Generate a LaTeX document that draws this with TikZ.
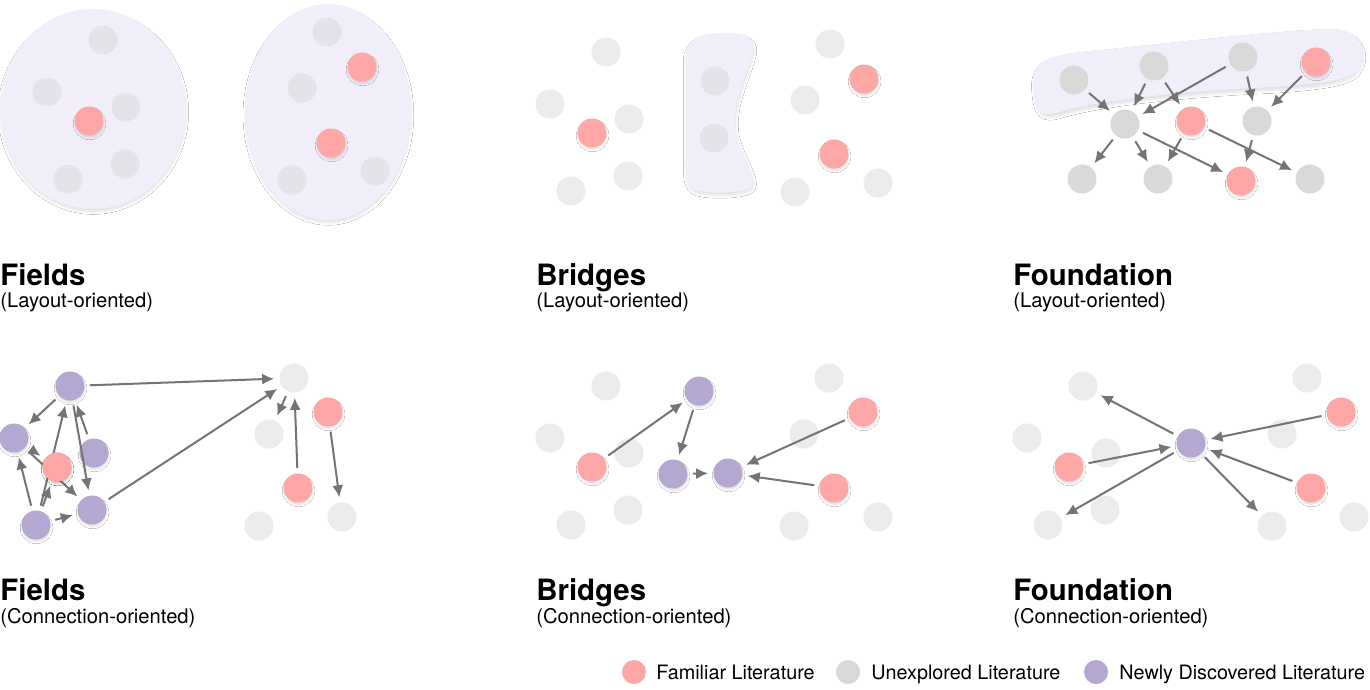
\documentclass[tikz,border=0pt]{standalone}
\usepackage{fontspec}
\setmainfont{TeX Gyre Heros}
\usetikzlibrary{arrows.meta,shadows.blur}
\definecolor{pinkc}{HTML}{FFA6A6}
\definecolor{grayc}{HTML}{EBEBEB}
\definecolor{grayin}{HTML}{E5E3EA}
\definecolor{grayf}{HTML}{D9D9D9}
\definecolor{purc}{HTML}{B4A7D2}
\definecolor{lav}{HTML}{F1EEFA}
\definecolor{arrc}{HTML}{747474}
\tikzset{
 lit/.style={circle,minimum size=14.5pt,inner sep=0pt,draw=none},
 sh/.style={blur shadow={shadow xshift=0.3pt,shadow yshift=-1.3pt,shadow scale=0.94,shadow blur radius=1.4pt,shadow blur steps=8,shadow opacity=16}},
 fam/.style={lit,fill=pinkc,sh},
 unx/.style={lit,fill=grayc},
 unxin/.style={lit,fill=grayin},
 unxf/.style={lit,fill=grayf},
 newd/.style={lit,fill=purc,sh},
 arr/.style={draw=arrc,line width=1pt,-{Latex[length=6pt,width=5.6pt]},shorten <=2.5pt,shorten >=2.5pt},
 ttl/.style={anchor=base west,inner sep=0pt,font=\fontsize{14.7}{16}\selectfont\bfseries},
 subt/.style={anchor=base west,inner sep=0pt,font=\fontsize{10.1}{12}\selectfont},
 blob/.style={fill=lav,blur shadow={shadow xshift=0.2pt,shadow yshift=-1.6pt,shadow scale=0.99,shadow blur radius=1.6pt,shadow blur steps=8,shadow opacity=14}},
 legc/.style={circle,minimum size=12pt,inner sep=0pt,draw=none},
 legt/.style={anchor=base west,inner sep=0pt,font=\fontsize{9.9}{12}\selectfont},
}
\begin{document}
\begin{tikzpicture}[x=0.5pt,y=-0.5pt]
\useasboundingbox[fill=white] (0,0) rectangle (1370,690);

% ---------- Top left: Fields (layout) ----------
\path[blob] (93,109) ellipse [x radius=93, y radius=100];
\path[blob] (328,112) ellipse [x radius=83, y radius=108];
\node[unxin] (fa1) at (103,40) {};
\node[unxin] (fa2) at (47,92) {};
\node[fam]   (fa3) at (89,121) {};
\node[unxin] (fa4) at (126,107) {};
\node[unxin] (fa5) at (125,164) {};
\node[unxin] (fa6) at (68,179) {};
\node[unxin] (fb1) at (327,32) {};
\node[fam]   (fb2) at (362,67) {};
\node[unxin] (fb3) at (302,88) {};
\node[fam]   (fb4) at (331,143) {};
\node[unxin] (fb5) at (292,180) {};
\node[unxin] (fb6) at (375,171) {};

% ---------- Top middle: Bridges (layout) ----------
\path[blob] (686,62) .. controls (684,38) and (700,33) .. (725,33)
  .. controls (745,33) and (758,36) .. (752,55)
  .. controls (745,80) and (733,100) .. (735,128)
  .. controls (737,150) and (758,175) .. (752,186)
  .. controls (748,194) and (700,195) .. (692,188)
  .. controls (684,182) and (686,165) .. (686,150) -- cycle;
\node[unx] (ba1) at (606,52) {};
\node[unx] (ba2) at (550,104) {};
\node[unx] (ba3) at (629,119) {};
\node[fam] (ba4) at (592,133) {};
\node[unx] (ba5) at (628,176) {};
\node[unx] (ba6) at (571,191) {};
\node[unxin] (bm1) at (715,81) {};
\node[unxin] (bm2) at (714,138) {};
\node[unx] (bb1) at (830,44) {};
\node[fam] (bb2) at (864,79) {};
\node[unx] (bb3) at (805,100) {};
\node[fam] (bb4) at (834,154) {};
\node[unx] (bb5) at (795,192) {};
\node[unx] (bb6) at (878,183) {};

% ---------- Top right: Foundation (layout) ----------
\path[blob] (1033,90) .. controls (1030,60) and (1045,55) .. (1100,50)
  .. controls (1180,42) and (1280,30) .. (1330,29)
  .. controls (1360,28) and (1372,52) .. (1358,70)
  .. controls (1350,80) and (1320,85) .. (1253,88)
  .. controls (1180,92) and (1100,100) .. (1060,112)
  .. controls (1040,118) and (1035,112) .. (1033,90) -- cycle;
\node[unxf] (fA) at (1074,80) {};
\node[unxf] (fB) at (1154,66) {};
\node[unxf] (fC) at (1243,57) {};
\node[fam]  (fD) at (1316,62) {};
\node[unxf] (fE) at (1125,124) {};
\node[fam]  (fF) at (1191,121) {};
\node[unxf] (fG) at (1257,121) {};
\node[unxf] (fH) at (1082,179) {};
\node[unxf] (fI) at (1158,179) {};
\node[fam]  (fJ) at (1241,181) {};
\node[unxf] (fK) at (1310,179) {};
\draw[arr] (fA) -- (fE);
\draw[arr] (fB) -- (fE);
\draw[arr] (fB) -- (fF);
\draw[arr] (fC) -- (fE);
\draw[arr] (fC) -- (fG);
\draw[arr] (fD) -- (fG);
\draw[arr] (fE) -- (fH);
\draw[arr] (fE) -- (fI);
\draw[arr] (fE) -- (fJ);
\draw[arr] (fF) -- (fI);
\draw[arr] (fF) -- (fK);
\draw[arr] (fG) -- (fJ);

% ---------- Titles top ----------
\node[ttl]  (t1) at (0,285) {Fields};
\node[subt] (s1) at (0,307) {(Layout-oriented)};
\node[ttl]  (t2) at (536,285) {Bridges};
\node[subt] (s2) at (536,307) {(Layout-oriented)};
\node[ttl]  (t3) at (1013,285) {Foundation};
\node[subt] (s3) at (1013,307) {(Layout-oriented)};

% ---------- Bottom left: Fields (connection) ----------
\node[unx] (cu1) at (294,378) {};
\node[unx] (cu2) at (269,434) {};
\node[unx] (cu3) at (342,517) {};
\node[unx] (cu4) at (259,526) {};
\node[newd] (cp1) at (70,386) {};
\node[newd] (cp2) at (14,438) {};
\node[newd] (cp3) at (94,453) {};
\node[newd] (cp4) at (92,510) {};
\node[newd] (cp5) at (36,525) {};
\node[fam]  (cr1) at (57,467) {};
\node[fam]  (cr2) at (328,412) {};
\node[fam]  (cr3) at (298,488) {};
\draw[arr] (cp1) -- (cu1);
\draw[arr] (cp4) -- (cu1);
\draw[arr] (cp1) -- (cp2);
\draw[arr] (cp1) -- (cp4);
\draw[arr] (cp3) -- (cp1);
\draw[arr] (cp5) -- (cp1);
\draw[arr] (cp5) -- (cp2);
\draw[arr] (cp5) -- (cr1);
\draw[arr] (cp5) -- (cp4);
\draw[arr] (cp2) -- (cr1);
\draw[arr] (cp2) -- (cp4);
\draw[arr] (cu1) -- (cu2);
\draw[arr] (cr3) -- (cu1);
\draw[arr] (cr2) -- (cu3);
\node[fam] (cr1b) at (cr1) {};

% ---------- Bottom middle: Bridges (connection) ----------
\node[unx] (da1) at (606,386) {};
\node[unx] (da2) at (550,438) {};
\node[unx] (da3) at (629,453) {};
\node[unx] (da5) at (628,510) {};
\node[unx] (da6) at (571,525) {};
\node[unx] (db1) at (829,378) {};
\node[unx] (db3) at (804,434) {};
\node[unx] (db5) at (794,526) {};
\node[unx] (db6) at (878,517) {};
\node[fam] (da4) at (592,467) {};
\node[fam] (db2) at (863,412) {};
\node[fam] (db4) at (834,488) {};
\node[newd] (dq1) at (699,391) {};
\node[newd] (dq2) at (673,474) {};
\node[newd] (dq3) at (728,473) {};
\draw[arr] (da4) -- (dq1);
\draw[arr] (dq1) -- (dq2);
\draw[arr] (dq2) -- (dq3);
\draw[arr] (db2) -- (dq3);
\draw[arr] (db4) -- (dq3);

% ---------- Bottom right: Foundation (connection) ----------
\node[unx] (ea1) at (1083,386) {};
\node[unx] (ea2) at (1027,438) {};
\node[unx] (ea3) at (1106,453) {};
\node[unx] (ea5) at (1105,510) {};
\node[unx] (ea6) at (1048,525) {};
\node[unx] (eb1) at (1307,378) {};
\node[unx] (eb3) at (1282,434) {};
\node[unx] (eb5) at (1272,526) {};
\node[unx] (eb6) at (1354,517) {};
\node[fam] (ea4) at (1069,467) {};
\node[fam] (eb2) at (1341,412) {};
\node[fam] (eb4) at (1311,488) {};
\node[newd] (ec) at (1191,443) {};
\draw[arr] (ec) -- (ea1);
\draw[arr] (ea4) -- (ec);
\draw[arr] (eb2) -- (ec);
\draw[arr] (eb4) -- (ec);
\draw[arr] (ec) -- (ea6);
\draw[arr] (ec) -- (eb5);

% ---------- Titles bottom ----------
\node[ttl]  (t4) at (0,600) {Fields};
\node[subt] (s4) at (0,623) {(Connection-oriented)};
\node[ttl]  (t5) at (536,600) {Bridges};
\node[subt] (s5) at (536,623) {(Connection-oriented)};
\node[ttl]  (t6) at (1013,600) {Foundation};
\node[subt] (s6) at (1013,623) {(Connection-oriented)};

% ---------- Legend ----------
\node[legc,fill=pinkc] (l1) at (634,672) {};
\node[legt] (lt1) at (656,679) {Familiar Literature};
\node[legc,fill=grayf] (l2) at (848,672) {};
\node[legt] (lt2) at (871,679) {Unexplored Literature};
\node[legc,fill=purc] (l3) at (1096,672) {};
\node[legt] (lt3) at (1119,679) {Newly Discovered Literature};
\end{tikzpicture}
\end{document}
